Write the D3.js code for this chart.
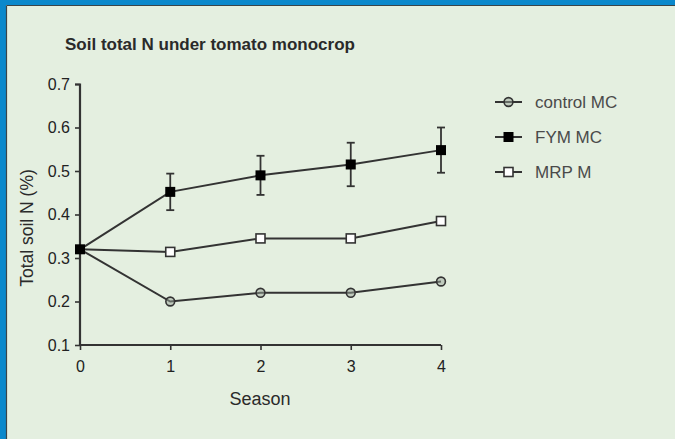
<!DOCTYPE html>
<html>
<head>
<meta charset="utf-8">
<script src="https://cdn.jsdelivr.net/npm/d3@7"></script>
<style>
  html, body { margin: 0; padding: 0; background: #e4efe0; }
  svg { display: block; }
</style>
</head>
<body>
<svg id="chart" width="675" height="439"></svg>
<script>
// Seasons and soil total N (%) per treatment
const seasons = [0, 1, 2, 3, 4];
const controlMC = [0.32, 0.200, 0.220, 0.220, 0.246];
const fymMC = [0.32, 0.452, 0.490, 0.515, 0.548];
const fymErr = [0, 0.042, 0.045, 0.050, 0.052];
const mrpM = [0.32, 0.314, 0.345, 0.345, 0.385];
const yTicks = [0.1, 0.2, 0.3, 0.4, 0.5, 0.6, 0.7];
const seriesNames = ["control MC", "FYM MC", "MRP M"];

const svg = d3.select("#chart");
const W = 675, H = 439;
const ink = "#333";
const font = "'Liberation Sans', Arial, sans-serif";

// frame: blue band on top and left with a dark inner edge
svg.append("rect").attr("width", W).attr("height", H).attr("fill", "#e4efe0");
svg.append("rect").attr("x", 0).attr("y", 0).attr("width", W).attr("height", 5).attr("fill", "#0a88cc");
svg.append("rect").attr("x", 0).attr("y", 0).attr("width", 6).attr("height", H).attr("fill", "#0a88cc");
svg.append("line").attr("x1", 6.5).attr("x2", W).attr("y1", 5.5).attr("y2", 5.5).attr("stroke", "#3a4448").attr("stroke-width", 1.2);
svg.append("line").attr("x1", 6.5).attr("x2", 6.5).attr("y1", 5.5).attr("y2", H).attr("stroke", "#3a4448").attr("stroke-width", 1.2);

const x = d3.scaleLinear().domain([0, 4]).range([80, 441]);
const y = d3.scaleLinear().domain([0.1, 0.7]).range([345, 84]);

// title
svg.append("text").attr("x", 65).attr("y", 50)
  .attr("font-family", font).attr("font-size", 17).attr("font-weight", "bold")
  .attr("fill", "#2a2a2a").text("Soil total N under tomato monocrop");

// axes
const yAxis = svg.append("g").attr("transform", "translate(80,0)")
  .call(d3.axisLeft(y).tickValues(yTicks).tickFormat(d3.format(".1f")).tickSize(5).tickPadding(5));
const xAxis = svg.append("g").attr("transform", "translate(0,345)")
  .call(d3.axisBottom(x).tickValues(seasons).tickFormat(d3.format("d")).tickSize(5).tickPadding(11));
[xAxis, yAxis].forEach(g => {
  g.select(".domain").attr("stroke", ink).attr("stroke-width", 2.2);
  g.selectAll(".tick line").attr("stroke", ink).attr("stroke-width", 1.6);
  g.selectAll(".tick text").attr("font-family", font).attr("font-size", 16)
    .attr("fill", "#222");
});
yAxis.select(".domain").attr("d", "M-5,84.5H0V345");
xAxis.select(".domain").attr("d", "M80,0H441");

// axis titles
svg.append("text").attr("x", 260).attr("y", 405).attr("text-anchor", "middle")
  .attr("font-family", font).attr("font-size", 18)
  .attr("fill", "#2a2a2a").text("Season");
svg.append("text").attr("transform", "translate(33,228) rotate(-90)").attr("text-anchor", "middle")
  .attr("font-family", font).attr("font-size", 17.5)
  .attr("fill", "#2a2a2a").text("Total soil N (%)");

const line = d3.line().x((d, i) => x(seasons[i])).y(d => y(d));
const plot = svg.append("g");

// lines
[controlMC, mrpM, fymMC].forEach(vals => {
  plot.append("path").datum(vals).attr("d", line)
    .attr("fill", "none").attr("stroke", ink).attr("stroke-width", 2);
});

// error bars for FYM MC
const eb = plot.append("g").attr("stroke", ink).attr("stroke-width", 1.8);
fymMC.forEach((v, i) => {
  if (!fymErr[i]) return;
  const cx = x(seasons[i]);
  eb.append("line").attr("x1", cx).attr("x2", cx).attr("y1", y(v - fymErr[i])).attr("y2", y(v + fymErr[i]));
  [v - fymErr[i], v + fymErr[i]].forEach(e =>
    eb.append("line").attr("x1", cx - 4).attr("x2", cx + 4).attr("y1", y(e)).attr("y2", y(e)));
});

// markers
function circleMark(g, cx, cy) {
  g.append("circle").attr("cx", cx).attr("cy", cy).attr("r", 4.4)
    .attr("fill", "#9aa59a").attr("fill-opacity", 0.5).attr("stroke", ink).attr("stroke-width", 1.6);
}
function openSquare(g, cx, cy) {
  g.append("rect").attr("x", cx - 4.5).attr("y", cy - 4.5).attr("width", 9).attr("height", 9)
    .attr("fill", "#fff").attr("stroke", ink).attr("stroke-width", 1.6);
}
function filledSquare(g, cx, cy) {
  g.append("rect").attr("x", cx - 5).attr("y", cy - 5).attr("width", 10).attr("height", 10)
    .attr("fill", "#000");
}
controlMC.forEach((v, i) => { if (i > 0) circleMark(plot, x(seasons[i]), y(v)); });
mrpM.forEach((v, i) => { if (i > 0) openSquare(plot, x(seasons[i]), y(v)); });
fymMC.forEach((v, i) => filledSquare(plot, x(seasons[i]), y(v)));

// legend
const legend = svg.append("g");
const markers = [circleMark, filledSquare, openSquare];
seriesNames.forEach((name, i) => {
  const ly = 102 + i * 35;
  legend.append("line").attr("x1", 495).attr("x2", 522).attr("y1", ly).attr("y2", ly)
    .attr("stroke", ink).attr("stroke-width", 2);
  markers[i](legend, 508.5, ly);
  legend.append("text").attr("x", 535).attr("y", ly + 6)
    .attr("font-family", font).attr("font-size", 17)
    .attr("fill", "#4a4a4a").text(name);
});
</script>
</body>
</html>
